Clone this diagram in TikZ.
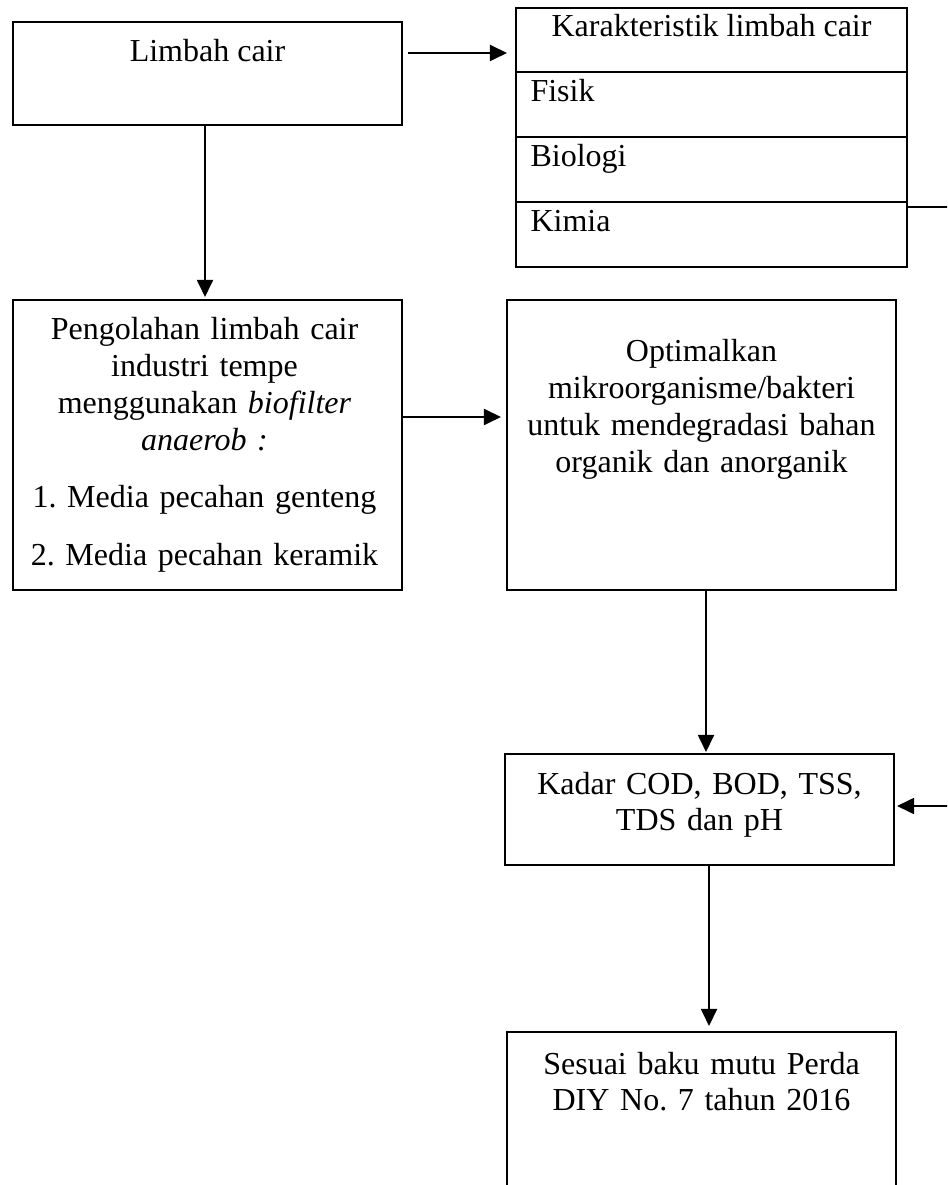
\documentclass[tikz,border=0pt]{standalone}
\usepackage{fontspec}
\setmainfont{Liberation Serif}
\usetikzlibrary{arrows.meta,positioning,calc,fit}

\begin{document}
\begin{tikzpicture}[x=0.375pt,y=-0.375pt,>={Triangle[length=6.4pt,width=6pt]},
  kotak/.style={draw,line width=0.75pt,inner sep=0pt,outer sep=0pt},
  teks/.style={inner sep=0pt,font=\fontsize{12}{13.8}\selectfont\frenchspacing,align=center,text width=140pt},
  kiri/.style={inner sep=0pt,font=\fontsize{12}{13.8}\selectfont},
  panah/.style={->,line width=0.75pt}]
\clip (0,0) rectangle (947,1185);
% kotak
\node[kotak,fit={(13,22) (402,125)}] (limbah) {};
\node[kotak,fit={(516,8) (907,72)}] (karak) {};
\node[kotak,fit={(516,72) (907,137)}] (fisik) {};
\node[kotak,fit={(516,137) (907,202)}] (biologi) {};
\node[kotak,fit={(516,202) (907,267)}] (kimia) {};
\node[kotak,fit={(13,300) (402,590)}] (olah) {};
\node[kotak,fit={(507,300) (896,590)}] (optim) {};
\node[kotak,fit={(505,754) (894,865)}] (kadar) {};
\node[kotak,fit={(507,1032) (896,1260)}] (sesuai) {};
% teks
\node[kiri,anchor=base] (limbahT) at ($(limbah.north)+(0,40)$) {Limbah cair};
\node[kiri,anchor=base] (karakT) at ($(karak.north)+(0,29)$) {Karakteristik limbah cair};
\node[kiri,anchor=base west] (fisikT) at ($(fisik.north west)+(14,30)$) {Fisik};
\node[kiri,anchor=base west] (biologiT) at ($(biologi.north west)+(14,30)$) {Biologi};
\node[kiri,anchor=base west] (kimiaT) at ($(kimia.north west)+(14,30)$) {Kimia};
\node[teks,anchor=base] (olahT) at ($(olah.north)+(-3,40)$)
  {Pengolahan limbah cair\\ industri tempe\\ menggunakan \textit{biofilter}\\
   \textit{anaerob :}\\[7.7pt] 1. Media pecahan genteng\\[7.7pt] 2. Media pecahan keramik};
\node[teks,anchor=base] (optimT) at ($(optim.north)+(0,62)$)
  {Optimalkan\\ mikroorganisme/bakteri\\ untuk mendegradasi bahan\\ organik dan anorganik};
\node[teks,anchor=base] (kadarT) at ($(kadar.north)+(0,40)$) {Kadar COD, BOD, TSS,\\ TDS dan pH};
\node[teks,anchor=base] (sesuaiT) at ($(sesuai.north)+(0,42)$) {Sesuai baku mutu Perda\\ DIY No. 7 tahun 2016};
% panah
\draw[panah] ($(limbah.north east)+(6,31)$) -- ($(karak.north west)+(-9,45)$);
\draw[panah] ($(limbah.south)+(-2.5,0)$) -- ($(olah.north)+(-2.5,-3)$);
\draw[panah] ($(olah.north east)+(0,117)$) -- ($(optim.north west)+(-6,117)$);
\draw[panah] ($(optim.south)+(4.5,0)$) coordinate (p1) -- ($(p1 |- kadar.north)+(0,-2)$);
\draw[panah] ($(kadar.south)+(9.5,0)$) coordinate (p2) -- ($(p2 |- sesuai.north)+(0,-6)$);
\draw[panah] ($(kimia.north east)+(0,5)$) -- ++(60,0) |- ($(kadar.east)+(3,-3.5)$);
\end{tikzpicture}
\end{document}
